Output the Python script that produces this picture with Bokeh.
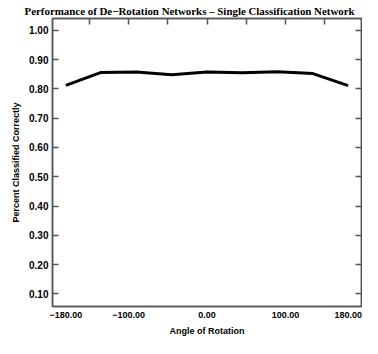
from bokeh.plotting import figure
from bokeh.models import LinearAxis, FixedTicker, Range1d, Title
from bokeh.embed import file_html
from bokeh.resources import INLINE

# data
angles = [-180, -135, -90, -45, 0, 45, 90, 135, 180]
percent_correct = [0.812, 0.856, 0.857, 0.848, 0.857, 0.855, 0.858, 0.852, 0.811]

x_tick_values = [-180, -100, 0, 100, 180]
x_top_ticks = [-150, -100, -50, 0, 50, 100, 150]
y_tick_values = [0.1, 0.2, 0.3, 0.4, 0.5, 0.6, 0.7, 0.8, 0.9, 1.0]

title_text = "Performance of De\u2212Rotation Networks \u2013 Single Classification Network"
x_title = "Angle of Rotation"
y_title = "Percent Classified Correctly"

AX = "#555555"
SANS = "Liberation Sans"

p = figure(width=362, height=338, output_backend="svg", toolbar_location=None,
           x_range=Range1d(-197, 197), y_range=Range1d(0.057, 1.04),
           x_axis_location=None, y_axis_location=None)
p.min_border_left = 52
p.min_border_right = 1
p.min_border_top = 0
p.min_border_bottom = 0
p.grid.visible = False
p.outline_line_color = AX
p.outline_line_width = 1.5
p.background_fill_color = "white"
p.border_fill_color = "white"

def style(ax):
    ax.axis_line_color = AX
    ax.axis_line_width = 1.5
    ax.major_tick_line_color = AX
    ax.major_tick_line_width = 1.5
    ax.major_tick_in = 6
    ax.major_tick_out = 0
    ax.minor_tick_line_color = None
    ax.major_label_text_font = SANS
    ax.major_label_text_font_style = "bold"
    ax.major_label_text_color = "black"
    ax.axis_label_text_font = SANS
    ax.axis_label_text_font_style = "bold"
    ax.axis_label_text_font_size = "9px"
    ax.axis_label_text_color = "black"

# bottom axis: labels only
xb = LinearAxis(ticker=FixedTicker(ticks=x_tick_values), axis_label=x_title)
style(xb)
xb.major_tick_line_color = None
xb.major_label_text_font_size = "9px"
xb.major_label_standoff = 5
xb.axis_label_standoff = 5
xb.major_label_overrides = {v: f"{v:.2f}".replace("-", "\u2212") for v in x_tick_values}
p.add_layout(xb, "below")

# top axis: ticks only
xt = LinearAxis(ticker=FixedTicker(ticks=x_top_ticks))
style(xt)
xt.major_label_text_font_size = "0px"
xt.major_label_text_color = None
xt.major_label_standoff = 0
p.add_layout(xt, "above")

t = Title(text=title_text, align="left", offset=-28,
          text_font="Liberation Serif", text_font_size="10.9px",
          text_font_style="bold", text_color="black", standoff=4)
p.add_layout(t, "above")

# left axis
yl = LinearAxis(ticker=FixedTicker(ticks=y_tick_values), axis_label=y_title)
style(yl)
yl.major_label_text_font_size = "10px"
yl.major_label_standoff = 4
yl.axis_label_standoff = 5
yl.major_label_overrides = {v: f"{v:.2f}" for v in y_tick_values}
p.add_layout(yl, "left")

# right axis: ticks only
yr = LinearAxis(ticker=FixedTicker(ticks=y_tick_values))
style(yr)
yr.major_label_text_font_size = "0px"
yr.major_label_text_color = None
yr.major_label_standoff = 0
p.add_layout(yr, "right")

p.line(angles, percent_correct, line_color="black", line_width=3)

open("out.html", "w").write(file_html(p, INLINE))
